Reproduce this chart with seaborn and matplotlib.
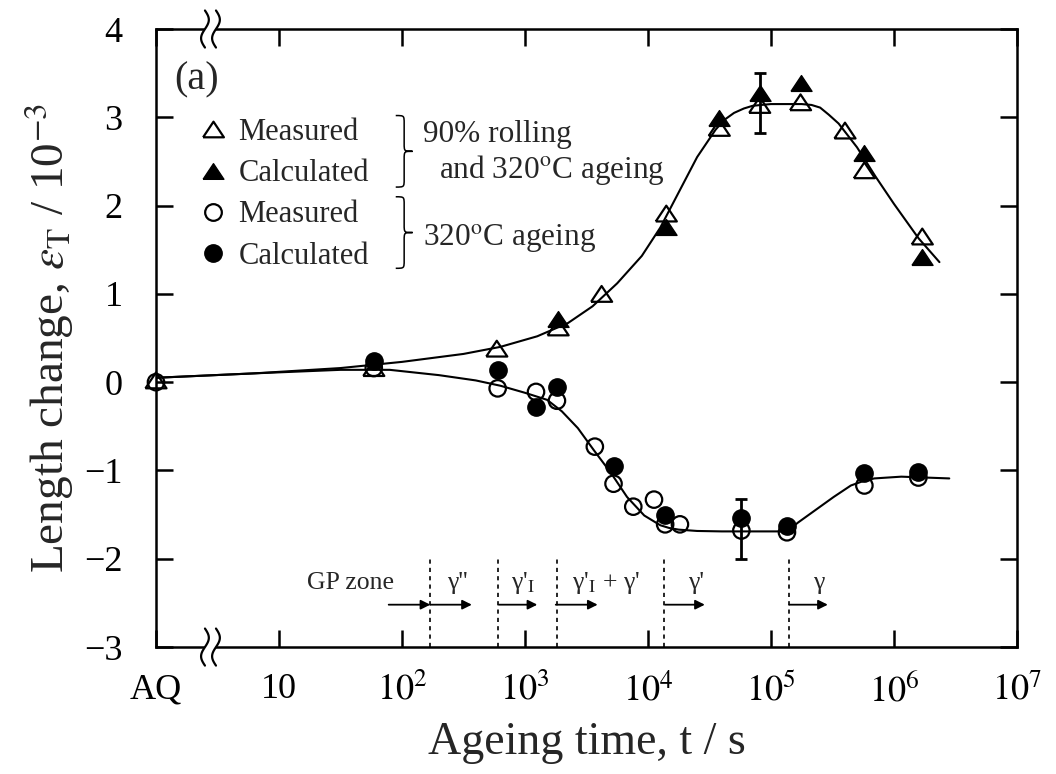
import numpy as np
import matplotlib
matplotlib.use("Agg")
import matplotlib.pyplot as plt
from matplotlib.path import Path
from matplotlib.patches import PathPatch, Rectangle
from matplotlib.lines import Line2D
from matplotlib.ticker import NullLocator
import seaborn as sns

# ageing time in s (AQ plotted at t = 1 s) and length change in 10^-3
tri_meas_t = [1, 59, 590, 1860, 4200, 14100, 38000, 81000, 174000, 400000, 575000, 1700000]
tri_meas_y = [0.02, 0.16, 0.38, 0.62, 1.00, 1.91, 2.88, 3.14, 3.17, 2.85, 2.40, 1.65]
tri_calc_t = [1860, 14100, 38000, 81000, 174000, 575000, 1700000]
tri_calc_y = [0.72, 1.76, 2.99, 3.27, 3.39, 2.60, 1.42]

cir_meas_t = [1, 59, 600, 1230, 1820, 3700, 5250, 7600, 11200, 13800, 18200, 57500, 135000, 575000, 1580000]
cir_meas_y = [0.00, 0.16, -0.07, -0.11, -0.21, -0.73, -1.15, -1.41, -1.33, -1.61, -1.61, -1.68, -1.70, -1.17, -1.08]
cir_calc_t = [59, 600, 1230, 1820, 5250, 13800, 57500, 135000, 575000, 1580000]
cir_calc_y = [0.24, 0.14, -0.28, -0.05, -0.95, -1.50, -1.54, -1.63, -1.03, -1.02]

# error bars on measured points
err_t = [81000, 57500]
err_y = [3.16, -1.66]
err_size = [0.34, 0.34]

# fitted curves (log10 t, value)
upper_fit_logt = [0, 0.8, 1.5, 2.0, 2.5, 2.8, 3.1, 3.35, 3.55, 3.75, 3.95, 4.1, 4.25, 4.4,
                  4.55, 4.62, 4.7, 4.78, 4.85, 4.92, 5.0, 5.25, 5.33, 5.4, 5.47, 5.55, 5.7,
                  5.85, 6.0, 6.2, 6.37]
upper_fit_y = [0.05, 0.10, 0.16, 0.23, 0.32, 0.40, 0.52, 0.67, 0.86, 1.12, 1.43, 1.75, 2.15, 2.55,
               2.86, 2.97, 3.05, 3.10, 3.13, 3.14, 3.15, 3.15, 3.14, 3.11, 3.03, 2.93, 2.66,
               2.33, 2.02, 1.63, 1.36]
lower_fit_logt = [0, 0.8, 1.5, 1.9, 2.3, 2.6, 2.8, 3.0, 3.18, 3.3, 3.43, 3.56, 3.7, 3.83, 3.97,
                  4.1, 4.17, 4.25, 4.4, 4.6, 5.13, 5.22, 5.51, 5.65, 5.75, 5.84, 6.06, 6.45]
lower_fit_y = [0.05, 0.10, 0.14, 0.14, 0.08, 0.02, -0.04, -0.12, -0.20, -0.33, -0.52, -0.77, -1.03,
               -1.30, -1.51, -1.62, -1.65, -1.67, -1.685, -1.69, -1.69, -1.59, -1.30, -1.17,
               -1.12, -1.09, -1.07, -1.09]

# precipitation stages
stage_bounds_t = [170, 600, 1820, 13500, 141000]
stage_labels = ["GP zone", "γ''", "γ'$_{\\rm I}$", "γ'$_{\\rm I}$ + γ'", "γ'", "γ"]
stage_label_t = [38, 280, 960, 4600, 24500, 245000]
stage_arrow_t = [(78, 170), (170, 370), (615, 1260), (1780, 3900), (13800, 29000), (141000, 290000)]

xtick_vals = [1, 10, 1e2, 1e3, 1e4, 1e5, 1e6, 1e7]
xtick_labels = ["AQ", "10", "$10^{2}$", "$10^{3}$", "$10^{4}$", "$10^{5}$", "$10^{6}$", "$10^{7}$"]

sns.set_theme(style="ticks")
plt.rcParams["font.family"] = ["Liberation Serif", "DejaVu Serif"]
plt.rcParams["mathtext.fontset"] = "stix"
plt.rcParams["axes.linewidth"] = 1.8

fig = plt.figure(figsize=(10.56, 7.74), dpi=100)
ax = fig.add_axes([0.1477, 0.164, 0.8153, 0.7985])
ax.set_xscale("log")
ax.set_xlim(1, 1e7)
ax.set_ylim(-3, 4)

tri = [(-1, -0.75), (1, -0.75), (0, 0.75), (-1, -0.75)]

sns.lineplot(x=10 ** np.array(upper_fit_logt), y=upper_fit_y, sort=False, estimator=None,
             color="black", lw=1.5, ax=ax)
sns.lineplot(x=10 ** np.array(lower_fit_logt), y=lower_fit_y, sort=False, estimator=None,
             color="black", lw=1.5, ax=ax)

ax.errorbar(err_t, err_y, yerr=err_size, fmt="none", ecolor="black", elinewidth=2,
            capsize=4.5, capthick=2, zorder=3)

sns.scatterplot(x=tri_meas_t, y=tri_meas_y, marker=tri, s=230, facecolors="none",
                edgecolor="black", linewidth=1.6, ax=ax, zorder=4, clip_on=False)
sns.scatterplot(x=cir_meas_t, y=cir_meas_y, marker="o", s=140, facecolors="none",
                edgecolor="black", linewidth=1.6, ax=ax, zorder=4, clip_on=False)
sns.scatterplot(x=tri_calc_t, y=tri_calc_y, marker=tri, s=230, color="black",
                edgecolor="black", linewidth=1.0, ax=ax, zorder=5)
sns.scatterplot(x=cir_calc_t, y=cir_calc_y, marker="o", s=155, color="black",
                edgecolor="black", linewidth=1.0, ax=ax, zorder=5)

# stage boundaries, arrows and labels
for tb in stage_bounds_t:
    ax.plot([tb, tb], [-3, -1.98], ls=(0, (2.5, 2.5)), color="black", lw=1.2)
for (a, b) in stage_arrow_t:
    ax.annotate("", xy=(b, -2.52), xytext=(a, -2.52),
                arrowprops=dict(arrowstyle="-|>", color="black", lw=1.3, mutation_scale=14,
                                shrinkA=0, shrinkB=0))
for lab, tx in zip(stage_labels, stage_label_t):
    ax.text(tx, -2.27, lab, ha="center", va="center", fontsize=18.5)

# legend
handles = [Line2D([], [], ls="none", marker=tri, ms=15, mfc="none", mec="black", mew=1.6),
           Line2D([], [], ls="none", marker=tri, ms=15, mfc="black", mec="black"),
           Line2D([], [], ls="none", marker="o", ms=12, mfc="none", mec="black", mew=1.6),
           Line2D([], [], ls="none", marker="o", ms=12.5, mfc="black", mec="black")]
ax.legend(handles, ["Measured", "Calculated", "Measured", "Calculated"], loc="upper left",
          bbox_to_anchor=(0.0484, 0.856), frameon=False, fontsize=22, handlelength=1.0,
          handletextpad=0.34, labelspacing=0.40, borderpad=0, borderaxespad=0)


def brace(x0, x1, y0, y1):
    xm = np.sqrt(x0 * x1)
    ym = (y0 + y1) / 2
    h = 0.09
    verts = [(x0, y1), (xm, y1), (xm, y1), (xm, y1 - h), (xm, ym + h),
             (xm, ym), (xm, ym), (x1, ym), (xm, ym), (xm, ym), (xm, ym - h),
             (xm, y0 + h), (xm, y0), (xm, y0), (x0, y0)]
    codes = [Path.MOVETO, Path.CURVE4, Path.CURVE4, Path.CURVE4, Path.LINETO,
             Path.CURVE4, Path.CURVE4, Path.CURVE4, Path.CURVE4, Path.CURVE4, Path.CURVE4,
             Path.LINETO, Path.CURVE4, Path.CURVE4, Path.CURVE4]
    ax.add_patch(PathPatch(Path(verts, codes), fill=False, lw=1.1, color="black"))


brace(89, 122, 2.21, 3.02)
brace(89, 122, 1.29, 2.10)
ax.text(148, 2.80, "90% rolling", fontsize=22.5, va="center")
ax.text(200, 2.40, "and 320$^{\\rm o}$C ageing", fontsize=22.5, va="center")
ax.text(148, 1.62, "320$^{\\rm o}$C ageing", fontsize=22.5, va="center")
ax.text(1.4, 3.42, "(a)", fontsize=29, va="center")

# axis break marks
xb = 0.0633
s = np.linspace(-1, 1, 40)
for yb in [0, 1]:
    ax.add_patch(Rectangle((xb - 0.0064, yb - 0.006), 0.0128, 0.012, transform=ax.transAxes,
                           facecolor="white", edgecolor="none", clip_on=False, zorder=6))
    for dx in [-0.0064, 0.0064]:
        ax.plot(xb + dx + 0.0045 * np.sin(np.pi * s), yb + 0.03 * s, color="black", lw=1.6,
                transform=ax.transAxes, clip_on=False, zorder=7)

ax.set_xticks(xtick_vals)
ax.set_xticklabels(xtick_labels)
ax.xaxis.set_minor_locator(NullLocator())
ax.set_yticks(range(-3, 5))
ax.tick_params(direction="in", length=12, width=1.8, top=True, right=True,
               labelsize=26, colors="black")
ax.tick_params(axis="x", pad=19)
ax.tick_params(axis="y", pad=24)
for sp in ax.spines.values():
    sp.set_color("black")
    sp.set_linewidth(1.8)

ax.set_xlabel("Ageing time, t / s", fontsize=33, labelpad=9)
ax.set_ylabel("Length change, $\\varepsilon_{\\rm T}$ / 10$^{-3}$", fontsize=34, labelpad=6)

fig.savefig("out.png", dpi=100)
